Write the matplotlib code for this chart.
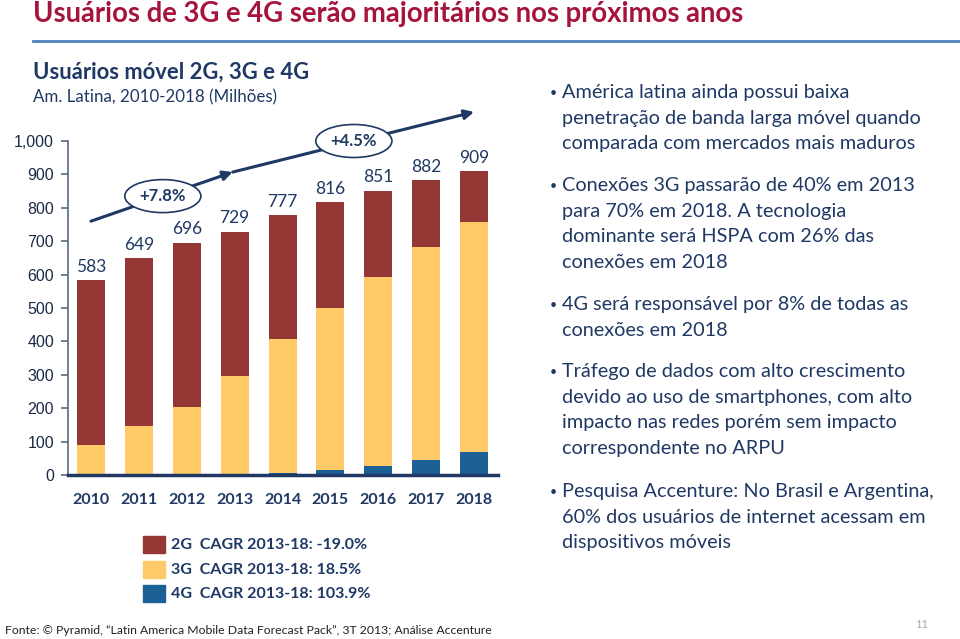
import matplotlib.pyplot as plt
import numpy as np

# Données (millions d'utilisateurs)
anos = ["2010", "2011", "2012", "2013", "2014", "2015", "2016", "2017", "2018"]
total = [583, 649, 696, 729, 777, 816, 851, 882, 909]
usuarios_4g = [0, 0, 0, 0, 6, 15, 28, 45, 70]
usuarios_3g = [90, 148, 204, 295, 400, 486, 566, 639, 687]
usuarios_2g = [493, 501, 492, 434, 371, 315, 257, 198, 152]
legenda = ["2G  CAGR 2013-18: -19.0%", "3G  CAGR 2013-18: 18.5%", "4G  CAGR 2013-18: 103.9%"]
cagr = ["+7.8%", "+4.5%"]
y_ticks = list(range(0, 1001, 100))

bullets = [
    "América latina ainda possui baixa\npenetração de banda larga móvel quando\ncomparada com mercados mais maduros",
    "Conexões 3G passarão de 40% em 2013\npara 70% em 2018. A tecnologia\ndominante será HSPA com 26% das\nconexões em 2018",
    "4G será responsável por 8% de todas as\nconexões em 2018",
    "Tráfego de dados com alto crescimento\ndevido ao uso de smartphones, com alto\nimpacto nas redes porém sem impacto\ncorrespondente no ARPU",
    "Pesquisa Accenture: No Brasil e Argentina,\n60% dos usuários de internet acessam em\ndispositivos móveis",
]

vermelho = "#953735"
amarelo = "#FFCB69"
azul = "#1B6196"
marinho = "#1F3864"
titulo_cor = "#A6143C"
fonte = ["Lato", "DejaVu Sans"]

fig = plt.figure(figsize=(9.6, 6.39), dpi=100)
W, H = 960, 639

def px(x, y):
    return x / W, 1 - y / H

# Titre et sous-titres
fig.text(*px(33, 14), "Usuários de 3G e 4G serão majoritários nos próximos anos",
         color=titulo_cor, fontsize=19.8, fontweight="bold", family=fonte, va="center")
fig.add_artist(plt.Line2D([33 / W, 1], [1 - 40.5 / H] * 2, color="#4F81BD", lw=2))
fig.text(*px(33, 72), "Usuários móvel 2G, 3G e 4G", color=marinho, fontsize=15.8,
         fontweight="bold", family=fonte, va="center")
fig.text(*px(33, 97), "Am. Latina, 2010-2018 (Milhões)", color=marinho, fontsize=12.2,
         family=fonte, va="center")

# Graphique
ax = fig.add_axes([68 / W, 164 / H, 430 / W, 367.4 / H])
x = np.arange(len(anos))
larg = 0.585
ax.bar(x, usuarios_4g, larg, color=azul)
ax.bar(x, usuarios_3g, larg, bottom=usuarios_4g, color=amarelo)
base_2g = np.array(usuarios_4g) + np.array(usuarios_3g)
ax.bar(x, usuarios_2g, larg, bottom=base_2g, color=vermelho)

for xi, t in zip(x, total):
    ax.annotate(str(t), (xi, t), xytext=(0, 4), textcoords="offset points",
                ha="center", va="bottom", fontsize=12.5, color=marinho, family=fonte)

ax.set_xlim(-0.48, 8.5)
ax.set_ylim(0, 1100)
ax.set_yticks(y_ticks)
ax.set_yticklabels([f"{v:,}" for v in y_ticks], fontsize=11.5, color="#1B2A47",
                   family="Liberation Sans")
ax.set_xticks(x)
ax.set_xticklabels(anos, fontsize=11.5, fontweight="bold", color=marinho, family=fonte)
ax.tick_params(axis="x", length=0, pad=13)
ax.tick_params(axis="y", length=5, color="#5A6A80", width=1.2, pad=5)
ax.spines["top"].set_visible(False)
ax.spines["right"].set_visible(False)
ax.spines["left"].set_bounds(0, 1000)
ax.spines["left"].set_color("#5A6A80")
ax.spines["left"].set_linewidth(1.2)
ax.spines["bottom"].set_color(marinho)
ax.spines["bottom"].set_linewidth(2.5)

# Flèches de croissance
seta = dict(arrowstyle="-|>", color=marinho, lw=2.2, mutation_scale=14,
            shrinkA=0, shrinkB=0)
ax.annotate("", xy=(2.96, 907), xytext=(0, 760), arrowprops=seta, annotation_clip=False)
ax.annotate("", xy=(8.0, 1087), xytext=(2.96, 907), arrowprops=seta, annotation_clip=False)
caixa = dict(boxstyle="ellipse,pad=0.22", fc="white", ec=marinho, lw=1.2)
ax.text(1.5, 835, cagr[0], ha="center", va="center", fontsize=12, fontweight="bold",
        color=marinho, family=fonte, bbox=caixa)
ax.text(5.49, 1000, cagr[1], ha="center", va="center", fontsize=12, fontweight="bold",
        color=marinho, family=fonte, bbox=caixa)

# Légende
for i, (rot, cor) in enumerate(zip(legenda, [vermelho, amarelo, azul])):
    y0 = 536 + i * 24.5
    fig.add_artist(plt.Rectangle(px(143, y0 + 17), 22 / W, 17 / H, color=cor))
    fig.text(*px(171, y0 + 9), rot, fontsize=11.5, fontweight="bold", color=marinho,
             family=fonte, va="center")

# Texte à droite
ys = [92, 185, 304, 371, 491]
for y0, b in zip(ys, bullets):
    fig.text(*px(550, y0 + 1), "•", fontsize=9, color=marinho, va="center", family=fonte)
    fig.text(*px(562, y0 - 8), b, fontsize=14.3, color=marinho, va="top",
             family=fonte, linespacing=1.62)

fig.text(*px(5, 630), "Fonte: © Pyramid, “Latin America Mobile Data Forecast Pack”, 3T 2013; Análise Accenture",
         fontsize=8.8, color="#222222", va="center", family=fonte)
fig.text(*px(915, 625), "11", fontsize=8, color="#AAAAAA", va="center", family=fonte)

fig.savefig("out.png", dpi=100)
